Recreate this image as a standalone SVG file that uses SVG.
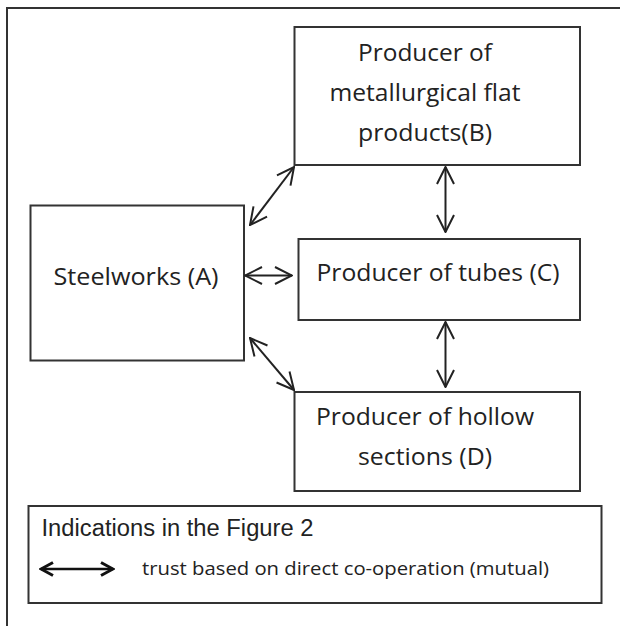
<svg xmlns="http://www.w3.org/2000/svg" width="620" height="626" viewBox="0 0 620 626">
<defs>
<marker id="ah" viewBox="0 0 20 20" refX="19" refY="10" markerWidth="20" markerHeight="20" markerUnits="userSpaceOnUse" orient="auto-start-reverse">
<path d="M2,1.5 L19,10 L2,18.5" fill="none" stroke="#222" stroke-width="2"/>
</marker>
<marker id="ahl" viewBox="0 0 16 16" refX="14" refY="8" markerWidth="16" markerHeight="16" markerUnits="userSpaceOnUse" orient="auto-start-reverse">
<path d="M2,1.5 L14,8 L2,14.5" fill="none" stroke="#111" stroke-width="3"/>
</marker>
</defs>
<style>
.box{fill:#fff;stroke:#333;stroke-width:2}
.t{font-family:"Open Sans","Noto Sans",sans-serif;font-size:24px;fill:#222;text-anchor:middle}
.c{stroke:#222;stroke-width:2;fill:none;marker-start:url(#ah);marker-end:url(#ah)}
</style>
<rect width="620" height="626" fill="#fff"/>
<path d="M7,626 L7,8 L620,8" fill="none" stroke="#333" stroke-width="2"/>
<g id="nodeB">
<rect class="box" x="294.5" y="27" width="285.5" height="138"/>
<text class="t" x="425" y="61" textLength="134" lengthAdjust="spacingAndGlyphs">Producer of</text>
<text class="t" x="425" y="101" textLength="191" lengthAdjust="spacingAndGlyphs">metallurgical flat</text>
<text class="t" x="425" y="141" textLength="134" lengthAdjust="spacingAndGlyphs">products(B)</text>
</g>
<g id="nodeA">
<rect class="box" x="30.5" y="205.5" width="213.5" height="155"/>
<text class="t" x="136" y="285" textLength="165" lengthAdjust="spacingAndGlyphs">Steelworks (A)</text>
</g>
<g id="nodeC">
<rect class="box" x="298.5" y="239" width="281.5" height="81"/>
<text class="t" x="438" y="281" textLength="243" lengthAdjust="spacingAndGlyphs">Producer of tubes (C)</text>
</g>
<g id="nodeD">
<rect class="box" x="294.5" y="392" width="285.5" height="99"/>
<text class="t" x="425" y="425" textLength="218" lengthAdjust="spacingAndGlyphs">Producer of hollow</text>
<text class="t" x="425" y="465" textLength="134" lengthAdjust="spacingAndGlyphs">sections (D)</text>
</g>
<g id="connectors">
<line class="c" x1="250" y1="225" x2="294" y2="167"/>
<line class="c" x1="245" y1="275.5" x2="292" y2="275.5"/>
<line class="c" x1="250" y1="338" x2="294" y2="390"/>
<line class="c" x1="445.5" y1="167" x2="445.5" y2="232"/>
<line class="c" x1="445.5" y1="322" x2="445.5" y2="387"/>
</g>
<g id="legend">
<rect x="28.5" y="506" width="573" height="97" fill="#fff" stroke="#333" stroke-width="2"/>
<text x="41.5" y="536" font-family="'Liberation Sans',Arial,sans-serif" font-size="23" fill="#222" textLength="272" lengthAdjust="spacingAndGlyphs">Indications in the Figure 2</text>
<line x1="41" y1="569" x2="113" y2="569" stroke="#111" stroke-width="2.5" marker-start="url(#ahl)" marker-end="url(#ahl)"/>
<text x="142" y="575" font-family="'Open Sans','Noto Sans',sans-serif" font-size="18" fill="#222" textLength="407" lengthAdjust="spacingAndGlyphs">trust based on direct co-operation (mutual)</text>
</g>
</svg>
